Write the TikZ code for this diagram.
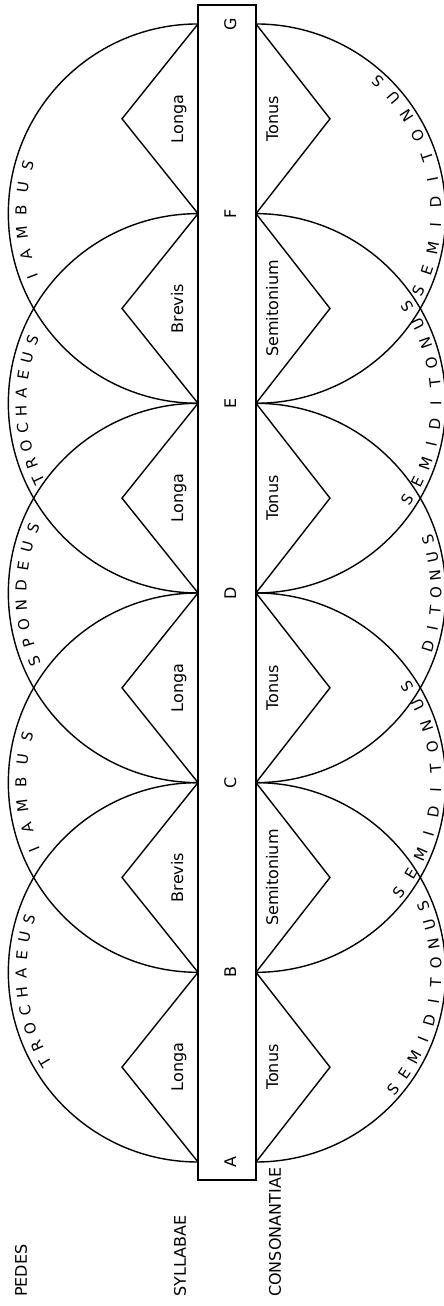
\documentclass[tikz,border=0pt]{standalone}
\usepackage{fontspec}
\setmainfont{DejaVu Sans}
\newcommand\arcwordL[5]{% #1 centre index, #2 offset, #3 gap, #4 count, #5 letters
  \foreach \ch [count=\i] in {#5} {
    \pgfmathsetmacro\ang{180+#2-(\i-1-(#4-1)/2)*#3}
    \node[arcch, rotate=\ang-90] (wl#1-\i) at ({198+177*cos(\ang)}, {144+#1*189.67+177*sin(\ang)}) {\ch};
  }}
\newcommand\arcwordR[5]{%
  \foreach \ch [count=\i] in {#5} {
    \pgfmathsetmacro\ang{-#2+(\i-1-(#4-1)/2)*#3}
    \node[arcch, rotate=\ang+90] (wr#1-\i) at ({256+180*cos(\ang)}, {144+#1*189.67+180*sin(\ang)}) {\ch};
  }}
\begin{document}
\begin{tikzpicture}[x=1pt,y=1pt,
  line/.style={line width=1.4pt, line join=miter},
  lab/.style={font=\fontsize{16}{16}\selectfont, inner sep=0pt, rotate=90, anchor=base},
  arcch/.style={font=\fontsize{15}{15}\selectfont, inner sep=0pt},
  sidelab/.style={font=\fontsize{16}{16}\selectfont, inner sep=0pt, rotate=90, anchor=west}]
\useasboundingbox (0,0) rectangle (444,1306);
\foreach \k in {0,...,6} {
  \coordinate (L\k) at (198, 144+\k*189.67);
  \coordinate (R\k) at (256, 144+\k*189.67);
}
\foreach \k in {0,...,5} {
  \coordinate (LA\k) at (122, 144+\k*189.67+94.835);
  \coordinate (RA\k) at (330, 144+\k*189.67+94.835);
}
% bar
\node[draw, line width=1.4pt, minimum width=58, minimum height=1175, inner sep=0pt] (bar) at (227, 713.5) {};
% letters
\foreach \l [count=\k from 0] in {A,B,C,D,E,F,G}
  \node[lab] (n\l) at (236, 144+\k*189.67) {\l};
% zigzags
\draw[line] (L0) -- (LA0) -- (L1) -- (LA1) -- (L2) -- (LA2) -- (L3) -- (LA3) -- (L4) -- (LA4) -- (L5) -- (LA5) -- (L6);
\draw[line] (R0) -- (RA0) -- (R1) -- (RA1) -- (R2) -- (RA2) -- (R3) -- (RA3) -- (R4) -- (RA4) -- (R5) -- (RA5) -- (R6);
% arcs
\foreach \k in {0,...,4} {
  \draw[line] (L\k) arc[start angle=270, end angle=90, radius=189.67];
  \draw[line] (R\k) arc[start angle=-90, end angle=90, radius=189.67];
}
% syllabae / consonantiae labels
\foreach \t [count=\k from 0] in {Longa,Brevis,Longa,Longa,Brevis,Longa}
  \node[lab] (sy\k) at (183, 144+\k*189.67+94.835) {\t};
\foreach \t [count=\k from 0] in {Tonus,Semitonium,Tonus,Tonus,Semitonium,Tonus}
  \node[lab] (co\k) at (278, 144+\k*189.67+94.835) {\t};
% side labels
\node[sidelab] (pedes) at (21, 9) {PEDES};
\node[sidelab] (syll) at (180, 9) {SYLLABAE};
\node[sidelab] (cons) at (275, 9) {CONSONANTIAE};
% arc words, left
\arcwordL{1}{6.5}{6}{9}{T,R,O,C,H,A,E,U,S}
\arcwordL{2}{3.6}{7.5}{6}{I,A,M,B,U,S}
\arcwordL{3}{0.7}{6.3}{8}{S,P,O,N,D,E,U,S}
\arcwordL{4}{2.4}{5.8}{9}{T,R,O,C,H,A,E,U,S}
\arcwordL{5}{2.4}{7.3}{6}{I,A,M,B,U,S}
% arc words, right
\arcwordR{1}{9.4}{6.2}{11}{S,E,M,I,D,I,T,O,N,U,S}
\arcwordR{2}{2.5}{7.0}{11}{S,E,M,I,D,I,T,O,N,U,S}
\arcwordR{3}{0}{5.7}{7}{D,I,T,O,N,U,S}
\arcwordR{4}{0}{6.5}{11}{S,E,M,I,D,I,T,O,N,U,S}
\arcwordR{5}{-11}{7.3}{11}{S,E,M,I,D,I,T,O,N,U,S}
\end{tikzpicture}
\end{document}
